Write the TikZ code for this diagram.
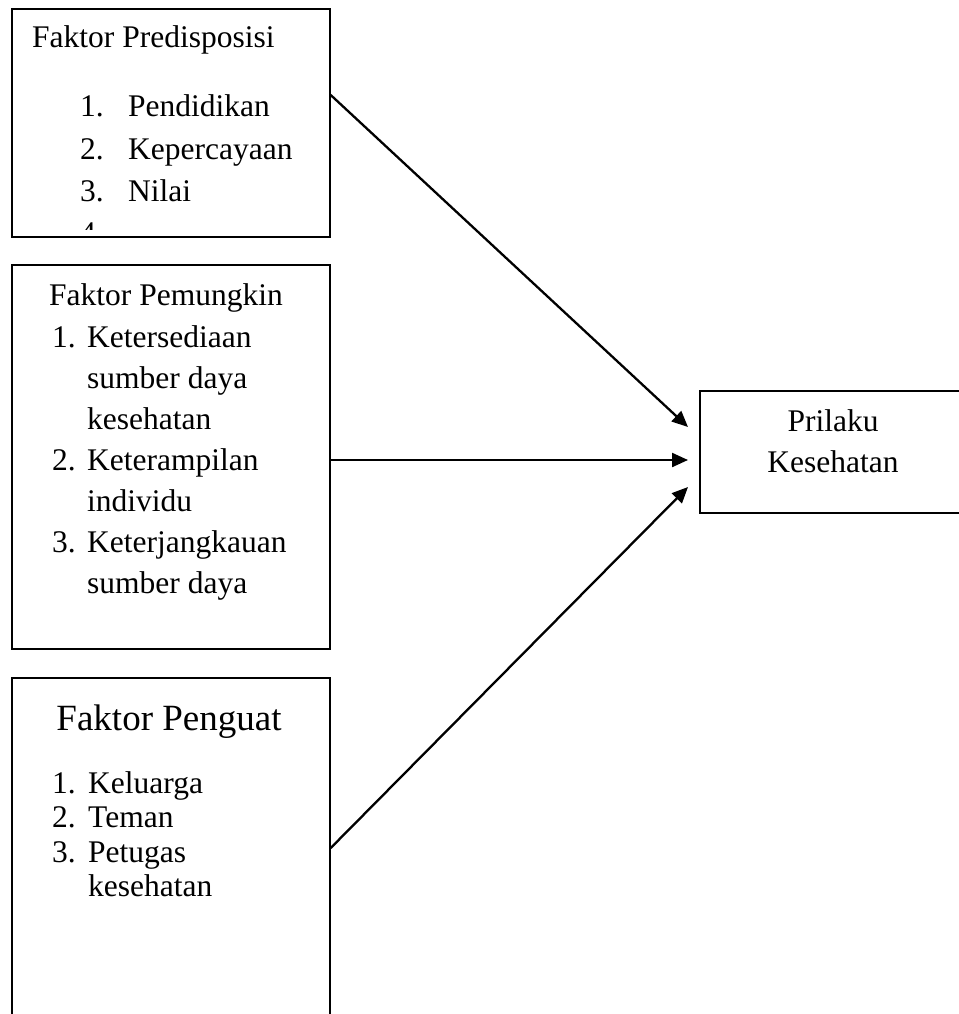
\documentclass[tikz,border=0pt]{standalone}
\usepackage{fontspec}
\setmainfont{Liberation Serif}
\usetikzlibrary{arrows.meta,calc}
\begin{document}
\begin{tikzpicture}[x=1pt,y=-1pt,
  box/.style={draw, line width=1.7pt, rectangle, anchor=north west, inner sep=0pt},
  txt/.style={anchor=base west, inner sep=0pt, font=\fontsize{31.5}{36}\selectfont},
  ctxt/.style={anchor=base, inner sep=0pt, font=\fontsize{31.5}{36}\selectfont},
  big/.style={anchor=base, inner sep=0pt, font=\fontsize{37}{42}\selectfont},
  conn/.style={line width=2.3pt, -{Triangle[length=16pt,width=14pt]}}]
\useasboundingbox (0,0) rectangle (958,1014);
% boxes
\node[box, minimum width=318pt, minimum height=228pt] (b1) at (11,8) {};
\node[box, minimum width=318pt, minimum height=384pt] (b2) at (11,264) {};
\node[box, minimum width=318pt, minimum height=360pt] (b3) at (11,677) {};
\node[box, minimum width=280pt, minimum height=122pt] (b4) at (699,390) {};
% box 1
\node[txt] (t1) at (32,48) {Faktor Predisposisi};
\node[txt] (n11) at (80,117) {1.};
\node[txt] (i11) at (128,117) {Pendidikan};
\node[txt] (n12) at (80,159) {2.};
\node[txt] (i12) at (128,159) {Kepercayaan};
\node[txt] (n13) at (80,201) {3.};
\node[txt] (i13) at (128,201) {Nilai};
\begin{scope}
\clip (11,8) rectangle (329,229);
\node[txt] (n14) at (80,243) {4.};
\end{scope}
% box 2
\node[ctxt] (t2) at (166,305) {Faktor Pemungkin};
\node[txt] (n21) at (52,347) {1.};
\node[txt] (i21) at (87,347) {Ketersediaan};
\node[txt] (i21b) at (87,388) {sumber daya};
\node[txt] (i21c) at (87,429) {kesehatan};
\node[txt] (n22) at (52,470) {2.};
\node[txt] (i22) at (87,470) {Keterampilan};
\node[txt] (i22b) at (87,511) {individu};
\node[txt] (n23) at (52,552) {3.};
\node[txt] (i23) at (87,552) {Keterjangkauan};
\node[txt] (i23b) at (87,593) {sumber daya};
% box 3
\node[big] (t3) at (169,730) {Faktor Penguat};
\node[txt] (n31) at (52,793) {1.};
\node[txt] (i31) at (88,793) {Keluarga};
\node[txt] (n32) at (52,827) {2.};
\node[txt] (i32) at (88,827) {Teman};
\node[txt] (n33) at (52,862) {3.};
\node[txt] (i33) at (88,862) {Petugas};
\node[txt] (i33b) at (88,896) {kesehatan};
% box 4
\node[ctxt] (t4a) at (833,431) {Prilaku};
\node[ctxt] (t4b) at (833,472) {Kesehatan};
% connectors
\draw[conn] ($(b1.north east)+(0,87)$) -- ($(b4.north west)+(-11,37)$);
\draw[conn] ($(b2.north east)+(0,196)$) -- ($(b4.north west)+(-11,70)$);
\draw[conn] ($(b3.north east)+(0,171)$) -- ($(b4.north west)+(-11,97)$);
\end{tikzpicture}
\end{document}
